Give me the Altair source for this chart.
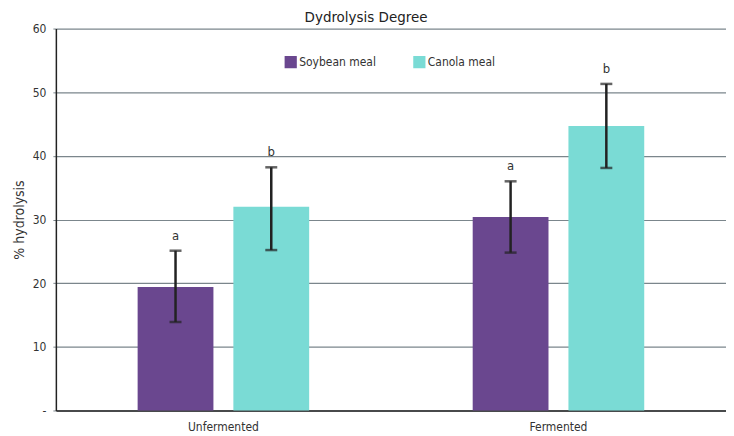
import altair as alt
import pandas as pd

categories = ["Unfermented", "Unfermented", "Fermented", "Fermented"]
series = ["Soybean meal", "Canola meal", "Soybean meal", "Canola meal"]
values = [19.4, 32.0, 30.4, 44.7]
err_low = [13.9, 25.2, 24.8, 38.1]
err_high = [25.1, 38.2, 36.0, 51.3]
letters = ["a", "b", "a", "b"]

df = pd.DataFrame({"cat": categories, "series": series, "value": values,
                   "lo": err_low, "hi": err_high, "letter": letters})

FONT = "Liberation Sans Narrow, DejaVu Sans Condensed, Roboto"
cat_order = ["Unfermented", "Fermented"]
ser_order = ["Soybean meal", "Canola meal"]

x = alt.X("cat:N", sort=cat_order, title=None,
          scale=alt.Scale(paddingInner=0, paddingOuter=0),
          axis=alt.Axis(labelAngle=0, ticks=False, domainColor="#222", domainWidth=1.5,
                        labelFontSize=12, labelColor="#333", labelPadding=11, labelFont=FONT))
xo = alt.XOffset("series:N", sort=ser_order,
                 scale=alt.Scale(paddingInner=0.2083, paddingOuter=0.854))

base = alt.Chart(df)

bars = base.mark_bar().encode(
    x=x, xOffset=xo,
    y=alt.Y("value:Q", title="% hydrolysis",
            scale=alt.Scale(domain=[0, 60]),
            axis=alt.Axis(values=[0, 10, 20, 30, 40, 50, 60], ticks=True, tickSize=3,
                          tickColor="#7b868c",
                          labelExpr="datum.value == 0 ? '-' : datum.label",
                          gridColor="#7b868c", gridWidth=1.2,
                          domainColor="#222", domainWidth=1.5,
                          labelFontSize=12, labelColor="#333", labelPadding=7,
                          labelFont=FONT, titleFont=FONT, titleFontSize=14,
                          titleFontWeight="normal", titleColor="#333", titlePadding=6)),
    color=alt.Color("series:N", sort=ser_order,
                    scale=alt.Scale(domain=ser_order, range=["#6a478f", "#7adbd5"]),
                    legend=alt.Legend(title=None, orient="none", direction="horizontal",
                                      legendX=229, legendY=27, symbolType="square",
                                      symbolSize=150, symbolStrokeWidth=0, symbolOpacity=1,
                                      labelFontSize=12, labelFont=FONT, labelColor="#333",
                                      columnPadding=36, labelOffset=2))
)

rules = base.mark_rule(color="#222", strokeWidth=2.5).encode(
    x=x, xOffset=xo, y="lo:Q", y2="hi:Q")

caps_hi = base.mark_tick(color="#222", thickness=2.5, size=12, orient="horizontal").encode(
    x=x, xOffset=xo, y="hi:Q")
caps_lo = base.mark_tick(color="#222", thickness=2.5, size=12, orient="horizontal").encode(
    x=x, xOffset=xo, y="lo:Q")

text = base.mark_text(dy=-15, fontSize=13, font=FONT, color="#333").encode(
    x=x, xOffset=xo, y="hi:Q", text="letter:N")

chart = alt.layer(bars, rules, caps_hi, caps_lo, text).properties(
    width=672, height=383,
    autosize=alt.AutoSizeParams(type="none"),
    padding={"left": 48, "top": 20, "right": 0, "bottom": 25},
    title=alt.Title("Dydrolysis Degree", fontSize=15, fontWeight="normal", font=FONT,
                    color="#222", offset=-2, dx=-25),
).configure_view(stroke=None)

chart.save("out.html", embed_options={"renderer": "svg", "actions": False})
